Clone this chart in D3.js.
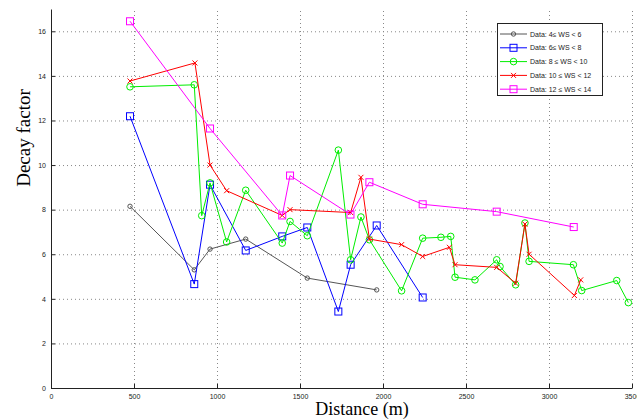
<!DOCTYPE html>
<html>
<head>
<meta charset="utf-8">
<script src="https://cdn.jsdelivr.net/npm/d3@7"></script>
<style>
  body { margin: 0; background: #fff; }
  .tick text { font-family: "Liberation Sans", Arial, sans-serif; font-size: 7px; fill: #222; }
  .grid line { stroke: #888; stroke-dasharray: 1, 3; }
  .grid .domain { display: none; }
  .axis .domain { stroke: #222; }
  .series { fill: none; stroke-width: 1; }
</style>
</head>
<body>
<script>
var width = 637;
var height = 419;

// distances (m) and decay factors
var ws4x = [476, 863, 958, 1173, 1544, 1962];
var ws4y = [8.15, 5.3, 6.23, 6.68, 4.93, 4.4];

var ws6x = [476, 863, 958, 1173, 1393, 1544, 1731, 1805, 1962, 2239];
var ws6y = [12.19, 4.66, 9.12, 6.17, 6.8, 7.2, 3.43, 5.53, 7.29, 4.06];

var ws8x = [476, 863, 908, 958, 1058, 1173, 1393, 1440, 1544, 1731, 1805, 1867, 1918, 2112, 2239, 2349, 2408, 2434, 2554, 2685, 2705, 2799, 2855, 2880, 3147, 3197, 3408, 3478];
var ws8y = [13.51, 13.6, 7.73, 9.2, 6.55, 8.87, 6.5, 7.47, 6.83, 10.67, 5.75, 7.67, 6.65, 4.36, 6.72, 6.76, 6.8, 4.97, 4.85, 5.75, 5.45, 4.63, 7.4, 5.68, 5.53, 4.37, 4.82, 3.83];

var ws10x = [476, 867, 958, 1058, 1393, 1440, 1805, 1867, 1918, 2112, 2239, 2400, 2434, 2685, 2799, 2855, 2880, 3153, 3191];
var ws10y = [13.77, 14.58, 10.0, 8.85, 7.74, 8.0, 7.87, 9.45, 6.68, 6.43, 5.9, 6.31, 5.53, 5.41, 4.7, 7.35, 6.0, 4.15, 4.85];

var ws12x = [476, 958, 1393, 1440, 1804, 1918, 2239, 2685, 3149];
var ws12y = [16.45, 11.64, 7.74, 9.53, 7.78, 9.23, 8.24, 7.91, 7.22];

var legendLabels = ['Data: 4\u2264 WS < 6', 'Data: 6\u2264 WS < 8', 'Data: 8 \u2264 WS < 10', 'Data: 10 \u2264 WS < 12', 'Data: 12 \u2264 WS < 14'];
var colors = ['#555555', '#0000ff', '#00ee00', '#ff0000', '#ff00ff'];
var markers = ['dot', 'square', 'circle', 'cross', 'square'];
var xTicks = [0, 500, 1000, 1500, 2000, 2500, 3000, 3500];
var yTicks = [0, 2, 4, 6, 8, 10, 12, 14, 16];

var series = [
  { x: ws4x, y: ws4y },
  { x: ws6x, y: ws6y },
  { x: ws8x, y: ws8y },
  { x: ws10x, y: ws10y },
  { x: ws12x, y: ws12y }
];

var x = d3.scaleLinear().domain([0, 3500]).range([51, 632]);
var y = d3.scaleLinear().domain([0, 17]).range([388, 9]);

var svg = d3.select('body').append('svg')
  .attr('width', width)
  .attr('height', height);

// dotted grid
svg.append('g')
  .attr('class', 'grid')
  .attr('transform', 'translate(0,388)')
  .call(d3.axisBottom(x).tickValues(xTicks.slice(1)).tickSize(-379).tickFormat(''));
svg.append('g')
  .attr('class', 'grid')
  .attr('transform', 'translate(51,0)')
  .call(d3.axisLeft(y).tickValues(yTicks.slice(1)).tickSize(-581).tickFormat(''));

// axes
svg.append('g')
  .attr('class', 'axis')
  .attr('transform', 'translate(0,388)')
  .call(d3.axisBottom(x).tickValues(xTicks).tickFormat(d3.format('d')).tickSize(-4).tickSizeOuter(0).tickPadding(6));
svg.append('g')
  .attr('class', 'axis')
  .attr('transform', 'translate(51,0)')
  .call(d3.axisLeft(y).tickValues(yTicks).tickSize(-4).tickSizeOuter(0).tickPadding(5));
svg.selectAll('.axis .tick line').attr('stroke', '#222');

function drawMarker(g, kind, cx, cy, color) {
  if (kind === 'square') {
    g.append('rect').attr('x', cx - 3.5).attr('y', cy - 3.5).attr('width', 7).attr('height', 7)
      .attr('fill', 'none').attr('stroke', color);
  } else if (kind === 'circle') {
    g.append('circle').attr('cx', cx).attr('cy', cy).attr('r', 3.3)
      .attr('fill', 'none').attr('stroke', color);
  } else if (kind === 'dot') {
    g.append('circle').attr('cx', cx).attr('cy', cy).attr('r', 2.2)
      .attr('fill', 'none').attr('stroke', color);
  } else {
    g.append('path')
      .attr('d', 'M' + (cx - 2.5) + ',' + (cy - 2.5) + 'L' + (cx + 2.5) + ',' + (cy + 2.5) +
        'M' + (cx - 2.5) + ',' + (cy + 2.5) + 'L' + (cx + 2.5) + ',' + (cy - 2.5))
      .attr('stroke', color);
  }
}

var line = d3.line()
  .x(function (d) { return x(d[0]); })
  .y(function (d) { return y(d[1]); });

series.forEach(function (s, i) {
  var pts = s.x.map(function (v, j) { return [v, s.y[j]]; });
  var g = svg.append('g');
  g.append('path')
    .datum(pts)
    .attr('class', 'series')
    .attr('stroke', colors[i])
    .attr('d', line);
  pts.forEach(function (p) {
    drawMarker(g, markers[i], x(p[0]), y(p[1]), colors[i]);
  });
});

// legend
var legend = svg.append('g');
legend.append('rect')
  .attr('x', 497.5).attr('y', 23.5).attr('width', 105).attr('height', 72)
  .attr('fill', '#fff').attr('stroke', '#222');
legendLabels.forEach(function (label, i) {
  var ly = 34 + i * 13.8;
  legend.append('line')
    .attr('x1', 500).attr('x2', 527).attr('y1', ly).attr('y2', ly)
    .attr('stroke', colors[i]);
  drawMarker(legend, markers[i], 513.5, ly, colors[i]);
  legend.append('text')
    .attr('x', 530).attr('y', ly + 2.5)
    .attr('font-family', '"Liberation Sans", Arial, sans-serif')
    .attr('font-size', 7)
    .attr('fill', '#222')
    .text(label);
});

// axis titles
svg.append('text')
  .attr('x', 362).attr('y', 415)
  .attr('text-anchor', 'middle')
  .attr('font-family', '"Liberation Serif", "Times New Roman", serif')
  .attr('font-size', 18)
  .text('Distance (m)');
svg.append('text')
  .attr('transform', 'translate(30,138) rotate(-90)')
  .attr('text-anchor', 'middle')
  .attr('font-family', '"Liberation Serif", "Times New Roman", serif')
  .attr('font-size', 19)
  .text('Decay factor');
</script>
</body>
</html>
